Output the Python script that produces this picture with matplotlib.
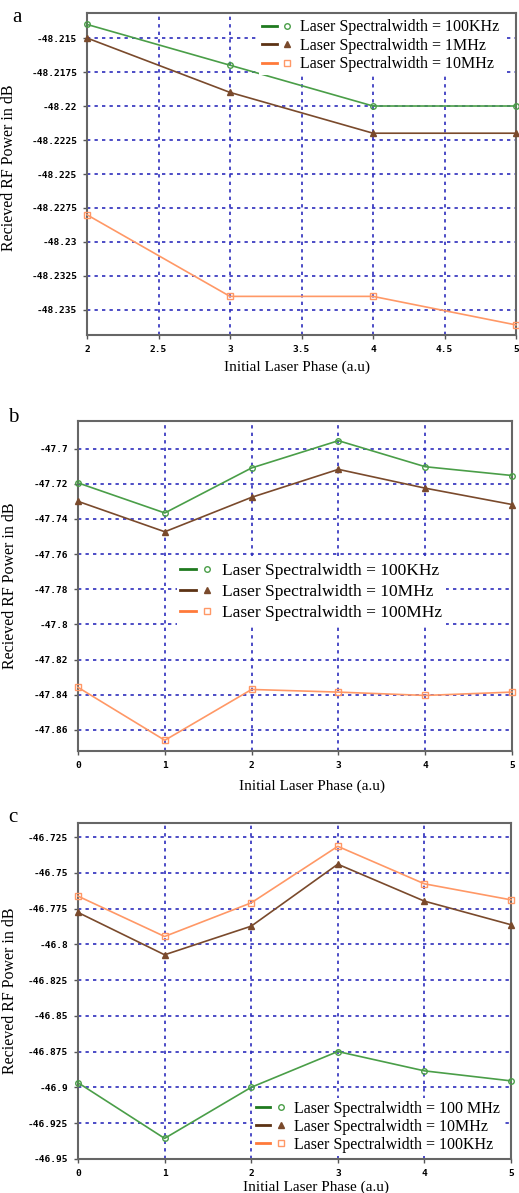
import matplotlib
matplotlib.use("Agg")
import matplotlib.pyplot as plt
from matplotlib.lines import Line2D
from matplotlib.legend_handler import HandlerTuple

# ---------------- data ----------------
xa = [2, 3, 4, 5]
a_100khz = [-48.214, -48.217, -48.220, -48.220]
a_1mhz = [-48.215, -48.219, -48.222, -48.222]
a_10mhz = [-48.228, -48.234, -48.234, -48.2361]
a_labels = ["Laser Spectralwidth = 100KHz", "Laser Spectralwidth = 1MHz",
            "Laser Spectralwidth = 10MHz"]
a_yticks = [-48.215, -48.2175, -48.22, -48.2225, -48.225, -48.2275, -48.23, -48.2325, -48.235]
a_yticklabels = ["-48.215", "-48.2175", "-48.22", "-48.2225", "-48.225", "-48.2275",
                 "-48.23", "-48.2325", "-48.235"]
a_xticks = [2, 2.5, 3, 3.5, 4, 4.5, 5]
a_xticklabels = ["2", "2.5", "3", "3.5", "4", "4.5", "5"]

xb = [0, 1, 2, 3, 4, 5]
b_100khz = [-47.7195, -47.7366, -47.711, -47.6955, -47.7103, -47.7153]
b_10mhz = [-47.730, -47.7473, -47.7277, -47.7118, -47.7225, -47.7318]
b_100mhz = [-47.8358, -47.8659, -47.837, -47.8385, -47.8404, -47.8385]
b_labels = ["Laser Spectralwidth = 100KHz", "Laser Spectralwidth = 10MHz",
            "Laser Spectralwidth = 100MHz"]
b_yticks = [-47.7, -47.72, -47.74, -47.76, -47.78, -47.8, -47.82, -47.84, -47.86]
b_yticklabels = ["-47.7", "-47.72", "-47.74", "-47.76", "-47.78", "-47.8", "-47.82",
                 "-47.84", "-47.86"]

xc = [0, 1, 2, 3, 4, 5]
c_100mhz = [-46.8967, -46.9356, -46.8999, -46.8749, -46.8884, -46.8954]
c_10mhz = [-46.7777, -46.8073, -46.7873, -46.744, -46.7698, -46.7863]
c_100khz = [-46.7663, -46.7945, -46.771, -46.7315, -46.7577, -46.7689]
c_labels = ["Laser Spectralwidth = 100 MHz", "Laser Spectralwidth = 10MHz",
            "Laser Spectralwidth = 100KHz"]
c_yticks = [-46.725, -46.75, -46.775, -46.8, -46.825, -46.85, -46.875, -46.9, -46.925, -46.95]
c_yticklabels = ["-46.725", "-46.75", "-46.775", "-46.8", "-46.825", "-46.85", "-46.875",
                 "-46.9", "-46.925", "-46.95"]

bc_xticks = [0, 1, 2, 3, 4, 5]
bc_xticklabels = ["0", "1", "2", "3", "4", "5"]

# ---------------- styles ----------------
GREEN = "#4a9e48"
BROWN = "#7a4a2c"
ORANGE = "#ff9866"
GREEN_L = "#1f7a1f"
BROWN_L = "#5c3214"
ORANGE_L = "#ff7a3a"
GRID = "#2e2ebc"
SERIF = "Liberation Serif"

W, H = 519, 1193
fig = plt.figure(figsize=(W / 100, H / 100), dpi=100)
fig.patch.set_facecolor("white")


def axes_px(left, right, top, bottom):
    return fig.add_axes([left / W, 1 - bottom / H, (right - left) / W, (bottom - top) / H])


def style(ax, xticks, xticklabels, yticks, yticklabels, xlim, ylim):
    ax.set_xlim(*xlim)
    ax.set_ylim(*ylim)
    ax.set_xticks(xticks)
    ax.set_xticklabels(xticklabels)
    ax.set_yticks(yticks)
    ax.set_yticklabels(yticklabels)
    for lab in ax.get_xticklabels() + ax.get_yticklabels():
        lab.set_fontfamily("DejaVu Sans Mono")
        lab.set_fontweight("bold")
        lab.set_fontsize(6.8)
    ax.tick_params(direction="out", length=3, width=1, color="#555555", pad=4)
    ax.grid(True, color=GRID, linestyle=(0, (2, 2.5)), linewidth=1.2)
    ax.set_axisbelow(True)
    for s in ax.spines.values():
        s.set_color("#666666")
        s.set_linewidth(1.5)
    ax.set_ylabel("Recieved RF Power in dB", fontfamily=SERIF, fontsize=11.5)
    ax.set_xlabel("Initial Laser Phase (a.u)", fontfamily=SERIF, fontsize=11)


def plot3(ax, x, ys, cols):
    markers = [("o", "none"), ("^", None), ("s", "none")]
    for y, c, (m, fc) in zip(ys, cols, markers):
        ax.plot(x, y, color=c, lw=1.2, marker=m, ms=4,
                mfc=(c if fc is None else "none"), mec=c, mew=1.0, clip_on=False, zorder=3)


def legend(ax, labels, fontsize, loc, anchor, spacing):
    cols = [GREEN_L, BROWN_L, ORANGE_L]
    mcols = [GREEN, BROWN, ORANGE]
    mk = [("o", "none"), ("^", None), ("s", "none")]
    handles = []
    for c, mc, (m, fc) in zip(cols, mcols, mk):
        ln = Line2D([], [], color=c, lw=2)
        mm = Line2D([], [], color=mc, lw=0, marker=m, ms=4,
                    mfc=(mc if fc is None else "none"), mec=mc, mew=1.0)
        handles.append((ln, mm))
    leg = ax.legend(handles, labels, handler_map={tuple: HandlerTuple(ndivide=None, pad=0.2)},
                    loc=loc, bbox_to_anchor=anchor, frameon=True, facecolor="white",
                    edgecolor="none", framealpha=1, fancybox=False,
                    prop={"family": SERIF, "size": fontsize}, labelspacing=spacing,
                    handlelength=2.0, handletextpad=0.4, borderpad=0.2, borderaxespad=0.2)
    leg.set_zorder(5)
    return leg


# ---------- panel a ----------
axa = axes_px(87, 516, 13, 335)
plot3(axa, xa, [a_100khz, a_1mhz, a_10mhz], [GREEN, BROWN, ORANGE])
style(axa, a_xticks, a_xticklabels, a_yticks, a_yticklabels, (2, 5), (-48.23684, -48.21316))
axa.yaxis.set_label_coords(-0.163, 0.52)
axa.xaxis.set_label_coords(0.49, -0.078)
legend(axa, a_labels, 11.5, "upper right", (0.977, 1.0), 0.15)

# ---------- panel b ----------
axb = axes_px(78, 512, 421, 751)
plot3(axb, xb, [b_100khz, b_10mhz, b_100mhz], [GREEN, BROWN, ORANGE])
style(axb, bc_xticks, bc_xticklabels, b_yticks, b_yticklabels, (0, 5), (-47.872, -47.6843))
axb.yaxis.set_label_coords(-0.138, 0.5)
axb.xaxis.set_label_coords(0.54, -0.085)
legend(axb, b_labels, 12.5, "upper left", (0.22, 0.59), 0.28)

# ---------- panel c ----------
axc = axes_px(78, 511, 823, 1159)
plot3(axc, xc, [c_100mhz, c_10mhz, c_100khz], [GREEN, BROWN, ORANGE])
style(axc, bc_xticks, bc_xticklabels, c_yticks, c_yticklabels, (0, 5), (-46.95, -46.7152))
axc.yaxis.set_label_coords(-0.138, 0.5)
axc.xaxis.set_label_coords(0.55, -0.065)
legend(axc, c_labels, 11.5, "lower right", (0.99, 0.0), 0.12)

# panel letters
fig.text(12 / W, 1 - 18 / H, "a", fontfamily=SERIF, fontsize=15, va="center")
fig.text(8 / W, 1 - 417 / H, "b", fontfamily=SERIF, fontsize=15, va="center")
fig.text(8 / W, 1 - 818 / H, "c", fontfamily=SERIF, fontsize=15, va="center")

fig.savefig("out.png", dpi=100)
